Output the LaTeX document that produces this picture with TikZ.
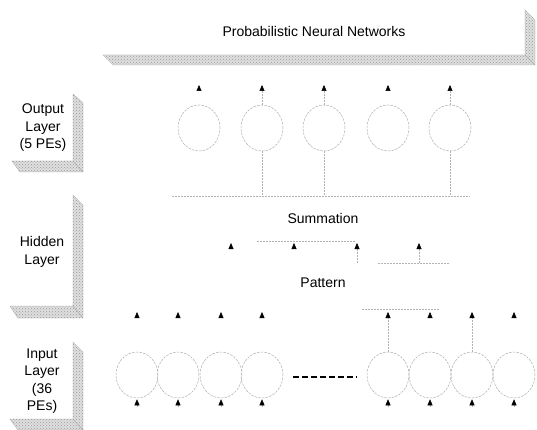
\documentclass[tikz,border=0pt]{standalone}
\usepackage{fontspec}
\setmainfont{Liberation Sans}
\usetikzlibrary{arrows.meta,shapes.geometric,patterns}
\begin{document}
\begin{tikzpicture}[x=1pt,y=-1pt,
  shadowfill/.style={preaction={fill=gray!25},pattern=crosshatch dots,pattern color=gray!80,draw=gray!70,line width=0.3pt},
  pe/.style={ellipse,minimum width=42pt,minimum height=46pt,inner sep=0pt,draw=gray!65,line width=0.5pt,dash pattern=on 2.5pt off 1.2pt},
  lbl/.style={font=\fontsize{14}{17.5}\selectfont,align=center,inner sep=0pt},
  wire/.style={draw=gray!60,line width=0.5pt,dash pattern=on 2pt off 1pt},
  arr/.style={wire,-{Triangle[width=5pt,length=6pt,fill=black,color=black]}},
  bigdash/.style={draw=black,line width=2.2pt,dash pattern=on 6pt off 3pt}]
\useasboundingbox (0,0) rectangle (537,430);
% shadows
\filldraw[shadowfill] (103,55) -- (525,55) -- (525,10) -- (535,20) -- (535,65) -- (113,65) -- cycle;
\draw[gray!70,line width=0.4pt] (525,55) -- (535,65);
\filldraw[shadowfill] (12,161) -- (73,161) -- (73,94) -- (83,103) -- (83,172) -- (20,172) -- cycle;
\draw[gray!70,line width=0.4pt] (73,161) -- (83,172);
\filldraw[shadowfill] (10,306) -- (73,306) -- (73,195) -- (83,205) -- (83,318) -- (18,318) -- cycle;
\draw[gray!70,line width=0.4pt] (73,306) -- (83,318);
\filldraw[shadowfill] (10,419) -- (73,419) -- (73,342) -- (83,352) -- (83,430) -- (18,430) -- cycle;
\draw[gray!70,line width=0.4pt] (73,419) -- (83,430);
% labels
\node[lbl] (title) at (314,31) {Probabilistic Neural Networks};
\node[lbl] (outl) at (43,128) {Output\\Layer\\(5 PEs)};
\node[lbl] (hidl) at (42,252) {Hidden\\Layer};
\node[lbl] (inl) at (42,381) {Input\\Layer\\(36\\PEs)};
\node[lbl] (summ) at (323,218) {Summation};
\node[lbl] (patt) at (323,283) {Pattern};
% output PEs
\foreach \i/\x in {1/199,2/262,3/324,4/388,5/450}{
  \node[pe] (o\i) at (\x,128) {};
  \coordinate (ot\i) at (\x,85);
  \coordinate (ob\i) at (\x,196);
}
\foreach \i in {2,3,5}{
  \draw[arr] (o\i.north) -- (ot\i);
  \draw[wire] (o\i.south) -- (ob\i);
}
\foreach \i in {1,4}{ \draw[arr] ([yshift=-5pt]ot\i) -- (ot\i); }
\coordinate (hl1) at (172,196); \coordinate (hr1) at (470,196);
\draw[wire] (hl1) -- (hr1);
% summation units
\foreach \i/\x in {1/231,2/294,3/357,4/419}{
  \coordinate (st\i) at (\x,243);
  \coordinate (sb\i) at (\x,263);
}
\draw[arr] (sb3) -- (st3);
\draw[arr] (sb4) -- (st4);
\draw[arr] ([yshift=-5pt]st1) -- (st1);
\draw[arr] ([yshift=-5pt]st2) -- (st2);
\coordinate (sa) at (257,241); \coordinate (sbb) at (355,241);
\draw[wire] (sa) -- (sbb);
\coordinate (sc) at (378,263); \coordinate (sd) at (450,263);
\draw[wire] (sc) -- (sd);
% input PEs
\foreach \i/\x in {1/137,2/178,3/221,4/262,5/388,6/430,7/472,8/514}{
  \node[pe] (i\i) at (\x,375) {};
  \coordinate (pt\i) at (\x,312);
  \coordinate (ib\i) at (\x,407);
  \draw[arr] (ib\i) -- ([yshift=-1pt]i\i.south);
}
\foreach \i in {1,2,3,4,6,8}{ \draw[arr] ([yshift=-5pt]pt\i) -- (pt\i); }
\foreach \i in {5,7}{ \draw[arr] (i\i.north) -- (pt\i); }
\coordinate (pa) at (362,309); \coordinate (pb) at (440,309);
\draw[wire] (pa) -- (pb);
\draw[bigdash,shorten <=10pt,shorten >=10pt] ([yshift=-2pt]i4.east) -- ([yshift=-2pt]i5.west);
\end{tikzpicture}
\end{document}
